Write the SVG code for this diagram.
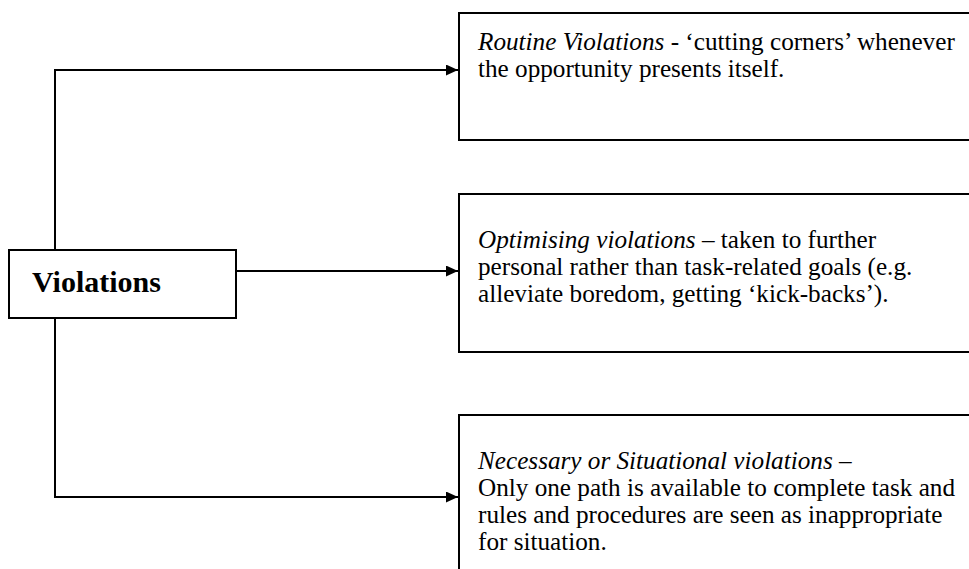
<svg xmlns="http://www.w3.org/2000/svg" width="969" height="569" viewBox="0 0 969 569">
  <style>
    .box { fill: #ffffff; stroke: #000000; stroke-width: 2; }
    .conn { fill: none; stroke: #000000; stroke-width: 2; }
    .txt { font-family: "Liberation Serif", "Times New Roman", serif; font-size: 25.2px; fill: #000000; }
    .em { font-style: italic; }
    .title { font-family: "Liberation Serif", "Times New Roman", serif; font-size: 30px; font-weight: bold; fill: #000000; }
  </style>
  <defs>
    <marker id="arrow" markerWidth="12" markerHeight="11" refX="12" refY="5.5" orient="auto" markerUnits="userSpaceOnUse">
      <path d="M0,0 L12,5.5 L0,11 Z" fill="#000000"/>
    </marker>
  </defs>
  <rect width="969" height="569" fill="#ffffff"/>

  <g id="connectors">
    <path class="conn" d="M55,250 L55,70 L458,70" marker-end="url(#arrow)"/>
    <path class="conn" d="M236,271 L458,271" marker-end="url(#arrow)"/>
    <path class="conn" d="M55,318 L55,497 L458,497" marker-end="url(#arrow)"/>
  </g>

  <g id="violations">
    <rect class="box" x="9" y="250" width="227" height="68"/>
    <text class="title" x="32" y="292">Violations</text>
  </g>

  <g id="routine">
    <rect class="box" x="459" y="13" width="520" height="127"/>
    <text class="txt" x="478" y="50"><tspan class="em">Routine Violations</tspan> - ‘cutting corners’ whenever</text>
    <text class="txt" x="478" y="77">the opportunity presents itself.</text>
  </g>

  <g id="optimising">
    <rect class="box" x="459" y="194" width="520" height="158"/>
    <text class="txt" x="478" y="248"><tspan class="em">Optimising violations</tspan> – taken to further</text>
    <text class="txt" x="478" y="275">personal rather than task-related goals (e.g.</text>
    <text class="txt" x="478" y="302">alleviate boredom, getting ‘kick-backs’).</text>
  </g>

  <g id="situational">
    <rect class="box" x="459" y="415" width="520" height="170"/>
    <text class="txt" x="478" y="469"><tspan class="em">Necessary or Situational violations</tspan> –</text>
    <text class="txt" x="478" y="496">Only one path is available to complete task and</text>
    <text class="txt" x="478" y="523">rules and procedures are seen as inappropriate</text>
    <text class="txt" x="478" y="550">for situation.</text>
  </g>
</svg>
